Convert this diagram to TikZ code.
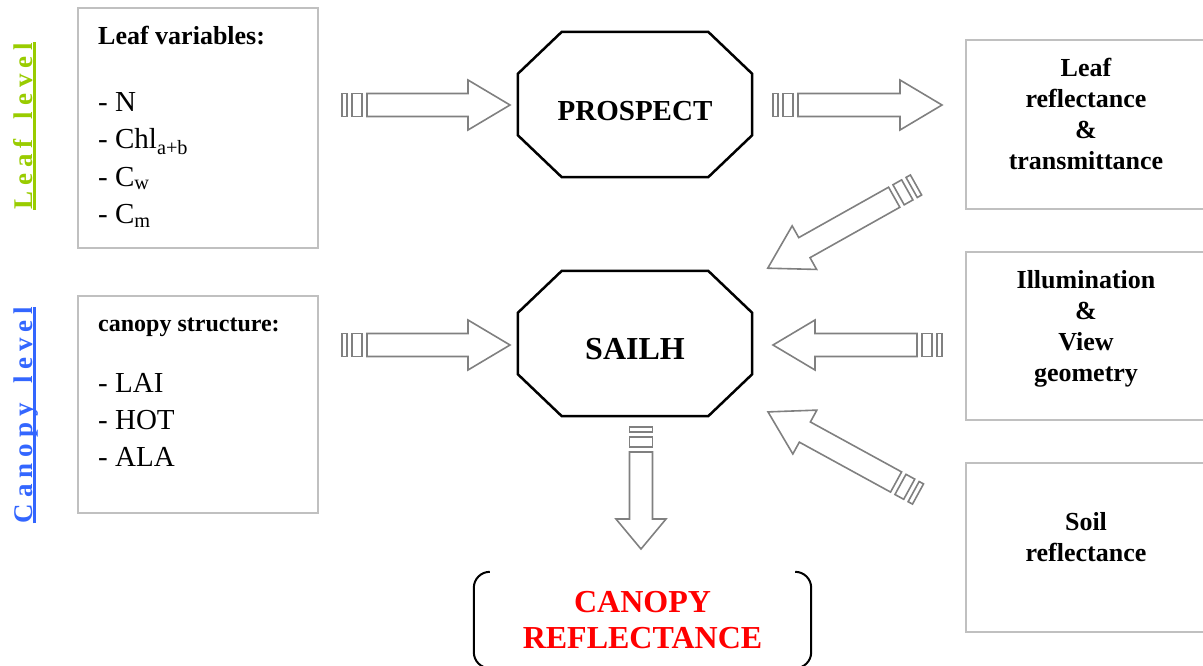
\documentclass[tikz,border=0pt]{standalone}
\usepackage{fontspec}
\setmainfont{Liberation Serif}
\usetikzlibrary{calc}

\definecolor{leafgreen}{RGB}{153,204,0}
\definecolor{canopyblue}{RGB}{51,102,255}
\definecolor{boxgray}{RGB}{192,192,192}
\definecolor{arrowgray}{RGB}{128,128,128}

\newcommand{\ls}{\hspace{6pt}}
\newcommand{\ws}{\hspace{20pt}}

% striped block arrow: tail, angle, length, head length
\newcommand{\blockarrow}[4]{%
\begin{scope}[shift={#1},rotate=#2]
\draw[arrowline] (0,-11.5) rectangle (5,11.5);
\draw[arrowline] (10,-11.5) rectangle (20,11.5);
\draw[arrowline] (25,-11.5) -- ({#3-#4},-11.5) -- ({#3-#4},-25) -- (#3,0) -- ({#3-#4},25) -- ({#3-#4},11.5) -- (25,11.5) -- cycle;
\end{scope}}

\newcommand{\octframe}[1]{%
\draw[octline] ([xshift=44]#1.north west) -- ([xshift=-44]#1.north east) -- ([yshift=-42]#1.north east) -- ([yshift=42]#1.south east) -- ([xshift=-44]#1.south east) -- ([xshift=44]#1.south west) -- ([yshift=42]#1.south west) -- ([yshift=-42]#1.north west) -- cycle;}

\tikzset{
varbox/.style={draw=boxgray, line width=2, minimum width=240, inner sep=0},
head/.style={anchor=base west, inner sep=0, font=\fontsize{26}{31}\selectfont\bfseries},
item/.style={anchor=base west, inner sep=0, font=\fontsize{29}{36}\selectfont},
info/.style={align=center, inner sep=0, font=\fontsize{26}{31}\selectfont\bfseries},
model/.style={minimum width=234, minimum height=145, inner sep=0, text height=32, text depth=0},
octline/.style={line width=2.5, line join=miter},
arrowline/.style={draw=arrowgray, line width=1.6, line join=miter},
lvl/.style={rotate=90, anchor=base, inner sep=0, font=\fontsize{27}{32}\selectfont\bfseries},
}

\begin{document}
\begin{tikzpicture}[x=1pt,y=-1pt]
\useasboundingbox (0,0) rectangle (1203,665);

% level labels
\node[lvl, text=leafgreen] (leaflvl) at (32,126) {L\ls e\ls a\ls f\ws l\ls e\ls v\ls e\ls l};
\draw[leafgreen, line width=2.5] ([xshift=2.5]leaflvl.base west) -- ([xshift=2.5]leaflvl.base east);
\node[lvl, text=canopyblue] (canlvl) at (32,415) {C\ls a\ls n\ls o\ls p\ls y\ws l\ls e\ls v\ls e\ls l};
\draw[canopyblue, line width=2.5] ([xshift=2.5]canlvl.base west) -- ([xshift=2.5]canlvl.base east);

% input boxes
\node[varbox, minimum height=240] (leafbox) at (198,128) {};
\node[head] (leafhead) at (98,44) {Leaf variables:};
\foreach \t [count=\i] in {N, Chl\textsubscript{a+b}, C\textsubscript{w}, C\textsubscript{m}}
{
\node[item] (lv\i) at (98,{73.5+37.5*\i}) {- \t};
}

\node[varbox, minimum height=217] (canbox) at (198,404.5) {};
\node[head, font=\fontsize{24}{29}\selectfont\bfseries] (canhead) at (98,331) {canopy structure:};
\foreach \t [count=\i] in {LAI, HOT, ALA}
{
\node[item] (cv\i) at (98,{355+37*\i}) {- \t};
}

\node[varbox, minimum height=169] (lrtbox) at (1086,124.5) {};
\node[info] (lrt) at (1086,114) {Leaf\\reflectance\\\&\\transmittance};
\node[varbox, minimum height=168] (geobox) at (1086,336) {};
\node[info] (geo) at (1086,328.5) {Illumination\\\&\\View\\geometry};
\node[varbox, minimum height=169] (soilbox) at (1086,547.5) {};
\node[info] (soil) at (1086,537.5) {Soil\\reflectance};

% models
\node[model, font=\fontsize{29}{34}\selectfont\bfseries] (prospect) at (635,104.5) {PROSPECT};
\octframe{prospect}
\node[model, font=\fontsize{32}{38}\selectfont\bfseries] (sailh) at (635,343.5) {SAILH};
\octframe{sailh}

% output
\node[align=center, inner sep=0, minimum width=337, minimum height=96, text=red, font=\fontsize{32}{36}\selectfont\bfseries] (canopy) at (642.5,620) {CANOPY\\REFLECTANCE};
\draw[line width=2, rounded corners=16] ([xshift=16]canopy.north west) -- (canopy.north west) -- (canopy.south west) -- ([xshift=16]canopy.south west);
\draw[line width=2, rounded corners=16] ([xshift=-16]canopy.north east) -- (canopy.north east) -- (canopy.south east) -- ([xshift=-16]canopy.south east);

% arrows
\blockarrow{(342,105)}{0}{168}{42}
\blockarrow{(773,105)}{0}{169}{42}
\blockarrow{(342,345)}{0}{168}{42}
\blockarrow{(942,345)}{180}{169}{42}
\blockarrow{(916,185)}{-150.7}{170}{42}
\blockarrow{(918,494)}{151.3}{171}{42}
\blockarrow{(641,427)}{-90}{122}{30}

\end{tikzpicture}
\end{document}
